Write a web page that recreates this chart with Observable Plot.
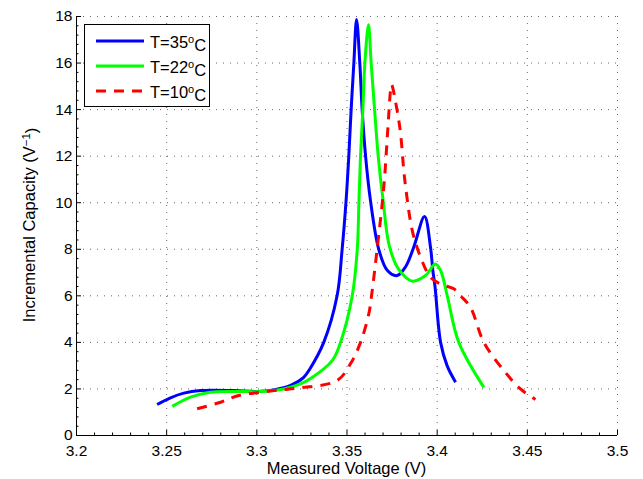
<!DOCTYPE html>
<html><head><meta charset="utf-8">
<script src="https://cdn.jsdelivr.net/npm/d3@7"></script>
<script src="https://cdn.jsdelivr.net/npm/@observablehq/plot@0.6"></script>
<style>body{margin:0;background:#fff} svg{display:block}</style>
</head><body><div id="chart"></div>
<script>
// T = 35 °C
const volt35 = [3.2447, 3.2521, 3.2595, 3.2688, 3.2872, 3.3002, 3.3094, 3.3187, 3.326, 3.3294, 3.3371, 3.3445, 3.3473, 3.3495, 3.351, 3.3523, 3.3538, 3.3553, 3.3571, 3.3584, 3.3603, 3.363, 3.3676, 3.3723, 3.3778, 3.3825, 3.387, 3.393, 3.3963, 3.3976, 3.3988, 3.4019, 3.4055, 3.4102];
const cap35  = [1.33, 1.62, 1.82, 1.93, 1.93, 1.89, 1.96, 2.15, 2.5, 2.86, 4.0, 6.0, 8.0, 10.1, 12.0, 14.0, 16.0, 17.87, 16.0, 14.0, 12.0, 10.1, 8.0, 7.1, 6.87, 7.25, 8.09, 9.41, 8.09, 7.09, 6.4, 4.0, 3.0, 2.29];
// T = 22 °C
const volt22 = [3.2531, 3.2632, 3.2743, 3.2891, 3.302, 3.315, 3.3242, 3.3294, 3.3418, 3.3464, 3.3529, 3.3557, 3.3566, 3.3575, 3.3588, 3.3599, 3.3619, 3.3634, 3.3653, 3.3673, 3.37, 3.3736, 3.379, 3.3862, 3.3935, 3.399, 3.4019, 3.4056, 3.412, 3.4259];
const cap22  = [1.25, 1.65, 1.86, 1.89, 1.89, 2.0, 2.22, 2.43, 3.22, 4.0, 6.0, 8.0, 10.0, 12.0, 14.0, 16.0, 17.65, 16.0, 14.0, 12.0, 10.1, 8.1, 7.1, 6.63, 6.87, 7.37, 7.09, 6.0, 4.0, 2.07];
// T = 10 °C
const volt10 = [3.2669, 3.2799, 3.29, 3.302, 3.3131, 3.3242, 3.3445, 3.352, 3.3575, 3.3621, 3.3636, 3.3667, 3.3704, 3.3727, 3.3741, 3.3747, 3.3778, 3.3797, 3.3815, 3.3828, 3.3862, 3.3908, 3.3963, 3.4019, 3.4092, 3.413, 3.4185, 3.4259, 3.437, 3.4462, 3.4545];
const cap10  = [1.15, 1.43, 1.72, 1.86, 1.96, 2.05, 2.36, 3.09, 4.0, 5.23, 6.0, 8.0, 10.67, 13.24, 14.8, 15.08, 13.96, 12.97, 11.38, 10.5, 8.8, 7.66, 6.8, 6.5, 6.3, 6.0, 5.5, 4.0, 2.79, 2.0, 1.55];

const seriesNames  = ["T=35", "T=22", "T=10"];
const seriesColors = ["#0000ff", "#00ff00", "#ff0000"];
const seriesDash   = [null, null, "10,8"];
const seriesVolts  = [volt35, volt22, volt10];
const seriesCaps   = [cap35, cap22, cap10];

const xTicks = [3.2, 3.25, 3.3, 3.35, 3.4, 3.45, 3.5];
const xTickLabels = ["3.2", "3.25", "3.3", "3.35", "3.4", "3.45", "3.5"];
const yTicks = [0, 2, 4, 6, 8, 10, 12, 14, 16, 18];
const yTickLabels = ["0", "2", "4", "6", "8", "10", "12", "14", "16", "18"];
const xMinor = [3.21,3.22,3.23,3.24,3.26,3.27,3.28,3.29,3.31,3.32,3.33,3.34,3.36,3.37,3.38,3.39,3.41,3.42,3.43,3.44,3.46,3.47,3.48,3.49];
const yMinor = [0.4,0.8,1.2,1.6,2.4,2.8,3.2,3.6,4.4,4.8,5.2,5.6,6.4,6.8,7.2,7.6,8.4,8.8,9.2,9.6,10.4,10.8,11.2,11.6,12.4,12.8,13.2,13.6,14.4,14.8,15.2,15.6,16.4,16.8,17.2,17.6];

const rows = seriesNames.map((n, k) => seriesVolts[k].map((v, i) => ({series: n, v, c: seriesCaps[k][i]})));

const FONT = "'Liberation Sans', Arial, Helvetica, sans-serif";
const gridStyle = {stroke: "#000", strokeOpacity: 0.6, strokeWidth: 1, strokeDasharray: "1,6"};

const plot = Plot.plot({
  width: 643, height: 479,
  marginLeft: 76, marginRight: 26, marginTop: 16, marginBottom: 44,
  x: {domain: [3.2, 3.5]},
  y: {domain: [0, 18]},
  style: {fontFamily: FONT, background: "#fff", color: "#000", overflow: "visible"},
  marks: [
    Plot.ruleX(xTicks.slice(1), {x: d => d, ...gridStyle}),
    Plot.ruleY(yTicks.slice(1), {y: d => d, ...gridStyle}),
    Plot.ruleX(xMinor, {x: d => d, y1: 0, y2: 0, insetTop: -2.5, stroke: "#000"}),
    Plot.ruleX(xTicks, {x: d => d, y1: 0, y2: 0, insetTop: -5, stroke: "#000"}),
    Plot.ruleY(yMinor, {y: d => d, x1: 3.2, x2: 3.2, insetRight: -2.5, stroke: "#000"}),
    Plot.ruleY(yTicks, {y: d => d, x1: 3.2, x2: 3.2, insetRight: -5, stroke: "#000"}),
    Plot.ruleY([0], {stroke: "#000"}),
    Plot.ruleX([3.2], {stroke: "#000"}),
    ...rows.map((r, k) => Plot.line(r, {
      x: "v", y: "c", stroke: seriesColors[k], strokeWidth: 3,
      strokeDasharray: seriesDash[k] || undefined, curve: "catmull-rom", strokeLinecap: "butt"
    })),
    Plot.axisX({ticks: xTicks, tickSize: 0, tickPadding: 9, label: null,
      tickFormat: d => xTickLabels[xTicks.indexOf(d)], fill: "#000"}),
    Plot.axisY({ticks: yTicks, tickSize: 0, tickPadding: 4, label: null,
      tickFormat: d => yTickLabels[yTicks.indexOf(d)], fill: "#000"})
  ]
});

const svg = d3.select(plot);
svg.attr("font-size", 15.5).style("font-size", "15.5px");
svg.selectAll("g").attr("font-size", null);
svg.selectAll("text").attr("font-size", 15.5).style("font-size", "15.5px").attr("font-family", FONT);
// axis titles
svg.append("text").attr("x", 346.5).attr("y", 474).attr("text-anchor", "middle")
  .attr("font-family", FONT).attr("font-size", 16.5).attr("fill", "#000")
  .text("Measured Voltage (V)");
const yl = svg.append("text").attr("transform", "translate(35,225) rotate(-90)")
  .attr("text-anchor", "middle").attr("font-family", FONT).attr("font-size", 16.5).attr("fill", "#000");
yl.append("tspan").text("Incremental Capacity (V");
yl.append("tspan").attr("dy", "-0.45em").attr("font-size", 11.5).text("\u22121");
yl.append("tspan").attr("dy", "0.45em").text(")");

// legend
const lg = svg.append("g");
lg.append("rect").attr("x", 84.5).attr("y", 24.5).attr("width", 125).attr("height", 82)
  .attr("fill", "#fff").attr("stroke", "#000").attr("stroke-width", 1);
seriesNames.forEach((n, k) => {
  const yy = 41 + k * 25;
  lg.append("line").attr("x1", 96).attr("x2", 144).attr("y1", yy).attr("y2", yy)
    .attr("stroke", seriesColors[k]).attr("stroke-width", 3)
    .attr("stroke-dasharray", seriesDash[k]);
  const t = lg.append("text").attr("x", 150).attr("y", yy + 7).attr("text-anchor", "start")
    .attr("font-family", FONT).attr("font-size", 16.5).attr("fill", "#000");
  t.append("tspan").text(n);
  t.append("tspan").attr("dy", "-0.5em").attr("font-size", 11).text("o");
  t.append("tspan").attr("dy", "0.5em").text("C");
});

document.getElementById("chart").appendChild(plot);
</script>
</body></html>
